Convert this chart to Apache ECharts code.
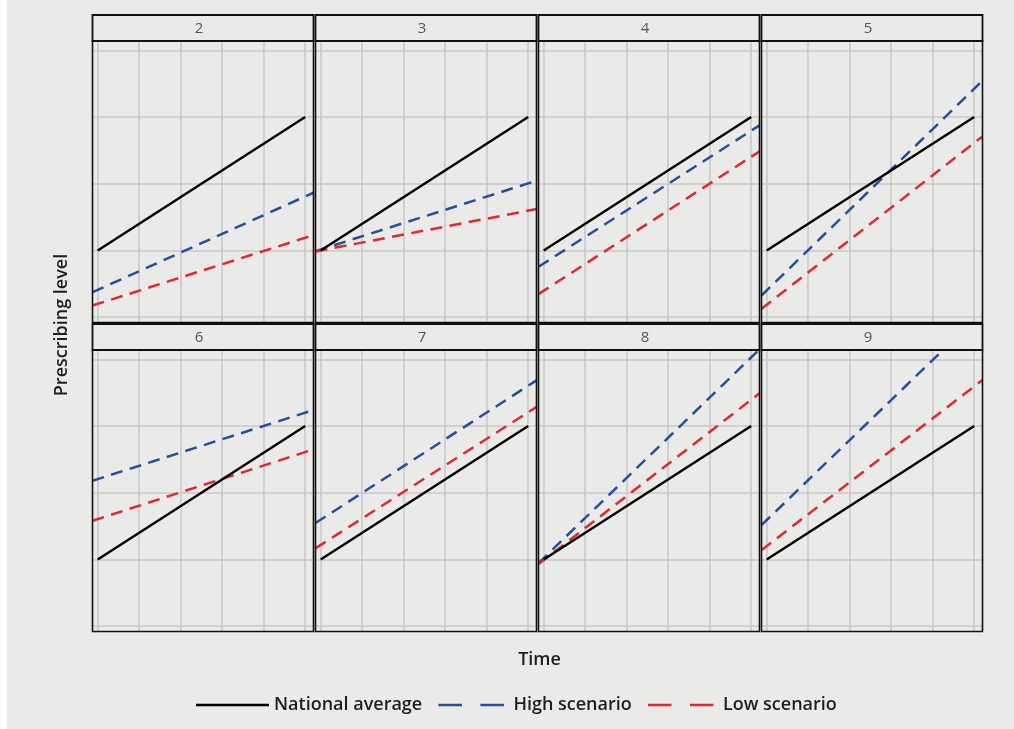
<!DOCTYPE html>
<html>
<head>
<meta charset="utf-8">
<script src="https://cdn.jsdelivr.net/npm/echarts@6/dist/echarts.min.js"></script>
<style>
html,body{margin:0;padding:0;background:#ffffff;}
#chart{position:absolute;left:7px;top:0;width:1007px;height:729px;background:#eaeae8;}
</style>
</head>
<body>
<div id="chart"></div>
<script>
// ---- data ----
const panels = ['2', '3', '4', '5', '6', '7', '8', '9'];
const seriesNames = ['National average', 'High scenario', 'Low scenario'];
const nationalTime = [0, 5];          // national average drawn from first to last time point
const scenarioTime = [-0.125, 5.2];   // scenario lines run across the full panel
const nationalStart = [1, 1, 1, 1, 1, 1, 1, 1];
const nationalEnd   = [3, 3, 3, 3, 3, 3, 3, 3];
const highStart = [0.374, 0.99, 0.755, 0.325, 2.18, 1.546, 0.945, 1.515];
const highEnd   = [1.865, 2.045, 2.875, 3.545, 3.24, 3.685, 4.15, 4.71];
const lowStart  = [0.174, 0.985, 0.345, 0.125, 1.58, 1.167, 0.93, 1.14];
const lowEnd    = [1.23, 1.62, 2.485, 2.71, 2.65, 3.287, 3.49, 3.69];
const yRange = [-0.08, 4.14];

// ---- layout ----
const colLeft = [85.5, 308.5, 531.5, 754.5];
const panelW = 221;
const rowTop = [41, 350];
const stripTop = [15, 324];
const panelH = 281.5;
const BG = '#eaeae8';
const GRIDC = '#c9c9c9';
const BLUE = '#22509e';
const RED = '#e2282c';
const FONT = "'Open Sans', 'Liberation Sans', sans-serif";

const grids = [], xAxes = [], yAxes = [], series = [], graphics = [];
panels.forEach((p, i) => {
  const c = i % 4, r = Math.floor(i / 4);
  grids.push({left: colLeft[c], top: rowTop[r], width: panelW, height: panelH,
    show: true, backgroundColor: BG, borderWidth: 0});
  xAxes.push({type: 'value', gridIndex: i, min: scenarioTime[0], max: scenarioTime[1],
    minInterval: 1, maxInterval: 1,
    axisLine: {show: false}, axisTick: {show: false}, axisLabel: {show: false},
    splitLine: {show: true, showMinLine: false, showMaxLine: false, lineStyle: {color: GRIDC, width: 1.6}}});
  yAxes.push({type: 'value', gridIndex: i, min: yRange[0], max: yRange[1],
    minInterval: 1, maxInterval: 1,
    axisLine: {show: false}, axisTick: {show: false}, axisLabel: {show: false},
    splitLine: {show: true, showMinLine: false, showMaxLine: false, lineStyle: {color: GRIDC, width: 1.6}}});
  series.push({name: seriesNames[1], type: 'line', xAxisIndex: i, yAxisIndex: i, symbol: 'none', silent: true, clip: true, z: 2,
    itemStyle: {color: BLUE},
    lineStyle: {color: BLUE, width: 2.5, type: [12, 7.5]},
    data: [[scenarioTime[0], highStart[i]], [scenarioTime[1], highEnd[i]]]});
  series.push({name: seriesNames[2], type: 'line', xAxisIndex: i, yAxisIndex: i, symbol: 'none', silent: true, clip: true, z: 2,
    itemStyle: {color: RED},
    lineStyle: {color: RED, width: 2.5, type: [12, 7.5]},
    data: [[scenarioTime[0], lowStart[i]], [scenarioTime[1], lowEnd[i]]]});
  series.push({name: seriesNames[0], type: 'line', xAxisIndex: i, yAxisIndex: i, symbol: 'none', silent: true, clip: true, z: 3,
    itemStyle: {color: '#000'},
    lineStyle: {color: '#000', width: 2.4, type: 'solid'},
    data: [[nationalTime[0], nationalStart[i]], [nationalTime[1], nationalEnd[i]]]});
  // panel border
  graphics.push({type: 'rect', z: 100, silent: true,
    shape: {x: colLeft[c], y: rowTop[r], width: panelW, height: panelH},
    style: {fill: 'none', stroke: '#111', lineWidth: 1.6}});
  // strip
  graphics.push({type: 'rect', z: 100, silent: true,
    shape: {x: colLeft[c], y: stripTop[r], width: panelW, height: rowTop[r] - stripTop[r]},
    style: {fill: BG, stroke: '#111', lineWidth: 1.8}});
  graphics.push({type: 'text', z: 101, silent: true,
    x: colLeft[c] + panelW / 2 - 4, y: (stripTop[r] + rowTop[r]) / 2 + 1,
    style: {text: p, fill: '#555', font: "400 15px " + FONT, align: 'center', verticalAlign: 'middle'}});
});

graphics.push({type: 'text', silent: true, x: 55, y: 325, rotation: Math.PI / 2,
  style: {text: 'Prescribing level', fill: '#1e1e1e', font: "600 18px " + FONT, align: 'center', verticalAlign: 'middle'}});
graphics.push({type: 'text', silent: true, x: 532.5, y: 660,
  style: {text: 'Time', fill: '#1e1e1e', font: "600 18px " + FONT, align: 'center', verticalAlign: 'middle'}});

const chart = echarts.init(document.getElementById('chart'), null, {renderer: 'canvas'});
chart.setOption({
  animation: false,
  backgroundColor: BG,
  grid: grids,
  xAxis: xAxes,
  yAxis: yAxes,
  series: series,
  graphic: graphics,
  legend: {
    left: 189, top: 696, padding: 0, itemGap: 12, itemWidth: 73, itemHeight: 16,
    selectedMode: false,
    textStyle: {fontFamily: FONT, fontWeight: 600, fontSize: 18, color: '#1e1e1e'},
    data: [
      {name: seriesNames[0], icon: 'path://M0,7 L73,7 L73,9.6 L0,9.6 Z', itemStyle: {color: '#000'}},
      {name: seriesNames[1], itemStyle: {opacity: 0}, lineStyle: {color: BLUE, width: 2.4, type: [23.5, 18.5], dashOffset: 39}},
      {name: seriesNames[2], itemStyle: {opacity: 0}, lineStyle: {color: RED, width: 2.4, type: [23.5, 18.5], dashOffset: 39}}
    ]
  }
});
</script>
</body>
</html>
